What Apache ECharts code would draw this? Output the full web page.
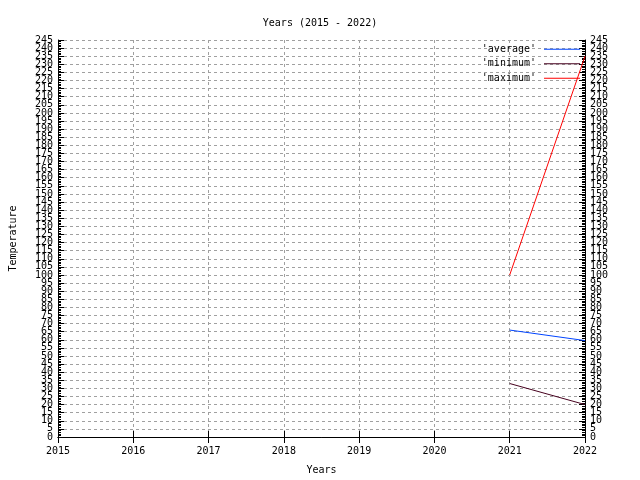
<!DOCTYPE html>
<html><head><meta charset="utf-8">
<script src="https://cdn.jsdelivr.net/npm/echarts@6/dist/echarts.min.js"></script>
<style>html,body{margin:0;padding:0;background:#fff}#c{width:640px;height:480px}</style>
</head><body><div id="c"></div>
<script>
const years = [2021, 2022];
const averageVals = [66, 59.5];
const minimumVals = [33, 20];
const maximumVals = [100, 235];
const seriesNames = ["'average'", "'minimum'", "'maximum'"];
const seriesColors = ['#0044ff', '#46001e', '#ff0000'];
const FONT = 'DejaVu Sans Mono';
const Y_MIN = 0, Y_MAX = 245, Y_STEP = 5;

function pairs(vals){ return years.map((y,i)=>[y, vals[i]]); }

const chart = echarts.init(document.getElementById('c'), null, {renderer:'canvas'});
const labelStyle = {color:'#000', fontFamily:FONT, fontSize:10, margin:5};
function yAxisMain(pos, extra){
  return Object.assign({
    type:'value', min:Y_MIN, max:Y_MAX, interval:Y_STEP, position:pos,
    axisLine:{show:true, lineStyle:{color:'#000', width:1}},
    axisTick:{show:true, inside:true, length:6, lineStyle:{color:'#000'}},
    minorTick:{show:true, splitNumber:5, length:3, lineStyle:{color:'#000'}},
    axisLabel:Object.assign({showMinLabel:false, showMaxLabel:false}, labelStyle),
    splitLine:{show:false}
  }, extra || {});
}
function yAxisEnds(pos){
  return {
    type:'value', min:Y_MIN, max:Y_MAX, interval:Y_STEP, position:pos,
    axisLine:{show:false}, axisTick:{show:false}, splitLine:{show:false},
    axisLabel:Object.assign({showMinLabel:true, showMaxLabel:true,
      formatter:v => (v === Y_MIN || v === Y_MAX) ? String(v) : ''}, labelStyle)
  };
}
chart.setOption({
  animation:false,
  title:{text:'Years (2015 - 2022)', left:'center', top:13,
    textStyle:{fontFamily:FONT, fontSize:10, fontWeight:'normal', color:'#000'}},
  grid:{left:53, right:55, top:40, bottom:43, containLabel:false},
  legend:{
    orient:'vertical', right:60, top:42, align:'right', itemGap:0, padding:0,
    itemWidth:36, itemHeight:1, icon:'rect',
    textStyle:{fontFamily:FONT, fontSize:10, color:'#000', lineHeight:14.5, padding:[0,3,0,0]},
    data:seriesNames
  },
  xAxis:[{
    type:'value', min:2015, max:2022, interval:1,
    name:'Years', nameLocation:'middle', nameGap:28,
    nameTextStyle:{fontFamily:FONT, fontSize:10, color:'#000'},
    axisLine:{show:true, lineStyle:{color:'#000'}},
    axisTick:{show:true, inside:true, length:6, lineStyle:{color:'#000'}},
    axisLabel:{color:'#000', fontFamily:FONT, fontSize:10, margin:9, formatter:v=>String(v), showMinLabel:true, showMaxLabel:true},
    splitLine:{show:true, lineStyle:{color:'#a0a0a0', type:[3,3], width:1}}
  },{
    type:'value', min:2015, max:2022, interval:1, position:'top',
    axisLine:{show:true, lineStyle:{color:'#000'}},
    axisTick:{show:true, inside:true, length:6, lineStyle:{color:'#000'}},
    axisLabel:{show:false}, splitLine:{show:false}
  }],
  yAxis:[
    yAxisMain('left', {
      name:'Temperature', nameLocation:'middle', nameGap:40, nameRotate:90,
      nameTextStyle:{fontFamily:FONT, fontSize:10, color:'#000'},
      splitLine:{show:true, lineStyle:{color:'#a0a0a0', type:[3,3], width:1}}
    }),
    yAxisMain('right'),
    yAxisEnds('left'),
    yAxisEnds('right')
  ],
  series:[
    {name:seriesNames[0], type:'line', data:pairs(averageVals), showSymbol:false, symbol:'none',
      lineStyle:{color:seriesColors[0], width:1}, itemStyle:{color:seriesColors[0]}},
    {name:seriesNames[1], type:'line', data:pairs(minimumVals), showSymbol:false, symbol:'none',
      lineStyle:{color:seriesColors[1], width:1}, itemStyle:{color:seriesColors[1]}},
    {name:seriesNames[2], type:'line', data:pairs(maximumVals), showSymbol:false, symbol:'none',
      lineStyle:{color:seriesColors[2], width:1}, itemStyle:{color:seriesColors[2]}}
  ]
});
</script></body></html>
